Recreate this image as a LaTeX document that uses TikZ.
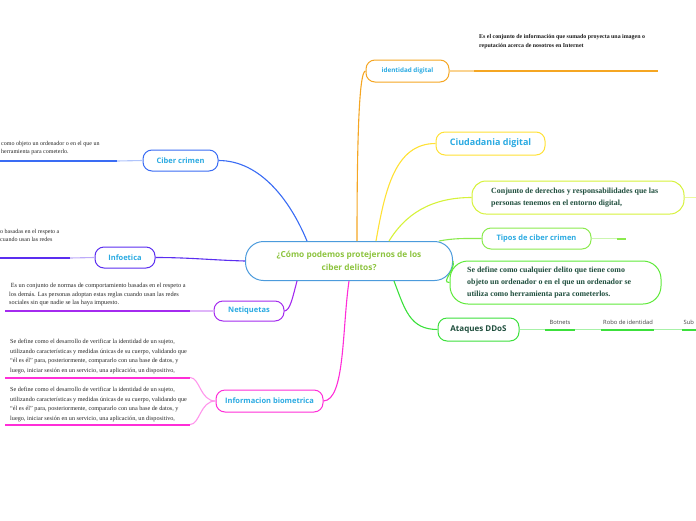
\documentclass[tikz,border=0pt]{standalone}
\usepackage{fontspec}
\setmainfont{Liberation Serif}
\setsansfont{Open Sans}
\usetikzlibrary{calc}
\definecolor{cOrange}{HTML}{F5A623}
\definecolor{cYellow}{HTML}{FFE135}
\definecolor{cYGreen}{HTML}{D6F23A}
\definecolor{cTGreen}{HTML}{8BEA4E}
\definecolor{cSGreen}{HTML}{5FEA3A}
\definecolor{cAGreen}{HTML}{3CE03C}
\definecolor{cBlue}{HTML}{3A6CF4}
\definecolor{cIPurple}{HTML}{5B2EF0}
\definecolor{cNPurple}{HTML}{A42BEF}
\definecolor{cMagenta}{HTML}{FF2ED8}
\definecolor{cCenter}{HTML}{4C9BDC}
\definecolor{cLabel}{HTML}{2AAAE2}
\definecolor{cCText}{HTML}{8DC43F}
\definecolor{cDark}{HTML}{1F4E3D}
\tikzset{
  box/.style={draw, rounded corners=9pt, line width=1pt, fill=white, inner sep=0pt,
    font=\sffamily\fontsize{7.5}{9}\selectfont\bfseries, text=cLabel},
  conn/.style={line width=1.1pt},
  thick line/.style={line width=2pt},
  desc/.style={anchor=north west, align=left, inner sep=0pt, text=black!85,
    font=\rmfamily\fontsize{6.2}{9.7}\selectfont},
  bigdesc/.style={anchor=north west, align=left, inner sep=0pt, text=black!85,
    font=\rmfamily\fontsize{6}{8.5}\selectfont},
  bdesc/.style={anchor=north west, align=left, inner sep=0pt, text=black!90,
    font=\rmfamily\bfseries\fontsize{5.9}{9}\selectfont},
  dgdesc/.style={anchor=west, align=left, inner sep=0pt, text=cDark,
    font=\rmfamily\bfseries\fontsize{7.9}{12}\selectfont},
  small/.style={inner sep=0pt, text=black!75, font=\sffamily\fontsize{5.8}{7}\selectfont}
}
\begin{document}
\begin{tikzpicture}[x=1pt,y=1pt]
\useasboundingbox (0,0) rectangle (696,-520);

% center
\node[box, draw=cCenter, rounded corners=18pt, minimum width=207pt, minimum height=39pt,
  align=center, text=cCText, font=\sffamily\fontsize{8.3}{13.5}\selectfont\bfseries]
  (c) at (349,-261) {¿Cómo podemos protejernos de los\\ciber delitos?};

% right side nodes
\node[box, draw=cOrange, minimum width=83pt, minimum height=22pt, font=\sffamily\fontsize{6.3}{8}\selectfont\bfseries]
  (id) at (407.5,-71) {identidad digital};
\node[box, draw=cYellow, minimum width=109pt, minimum height=23pt, font=\sffamily\fontsize{9}{11}\selectfont\bfseries]
  (cd) at (490.5,-143.5) {Ciudadania digital};
\node[box, draw=cYGreen, rounded corners=14pt, minimum width=212pt, minimum height=33pt, text=cDark]
  (cj) at (578,-197.5) {};
\node[dgdesc] (cjt) at (491,-197.5) {Conjunto de derechos y responsabilidades que las\\personas tenemos en el entorno digital,};
\node[box, draw=cTGreen, minimum width=109pt, minimum height=21pt]
  (tp) at (536.5,-238.5) {Tipos de ciber crimen};
\node[box, draw=cSGreen, rounded corners=18pt, minimum width=211pt, minimum height=43pt]
  (sd) at (555.5,-282.5) {};
\node[dgdesc] (sdt) at (467,-282.5) {Se define como cualquier delito que tiene como\\objeto un ordenador o en el que un ordenador se\\utiliza como herramienta para cometerlos.};
\node[box, draw=cAGreen, minimum width=81pt, minimum height=23pt, text=cDark, font=\sffamily\fontsize{8}{10}\selectfont\bfseries]
  (at) at (478.5,-329.5) {Ataques DDoS};

% left side nodes
\node[box, draw=cBlue, minimum width=75pt, minimum height=21pt]
  (cc) at (180.5,-160.5) {Ciber crimen};
\node[box, draw=cIPurple, minimum width=60pt, minimum height=21pt]
  (ie) at (125,-257.5) {Infoetica};
\node[box, draw=cNPurple, minimum width=70pt, minimum height=20pt]
  (nq) at (249,-311) {Netiquetas};
\node[box, draw=cMagenta, minimum width=107pt, minimum height=22pt]
  (bm) at (269.5,-401) {Informacion biometrica};

% connectors from center
\draw[conn, cOrange] ([xshift=8pt]c.north) .. controls (357,-120) and (360,-71) .. (id.west);
\draw[conn, cYellow] ([xshift=27pt]c.north) .. controls (385,-190) and (395,-143.5) .. (cd.west);
\draw[conn, cYGreen] ([xshift=40pt]c.north) .. controls (405,-215) and (430,-197.5) .. (cj.west);
\draw[conn, cTGreen] ([xshift=90pt]c.north) .. controls (455,-238) and (465,-238.5) .. (tp.west);
\draw[conn, cSGreen] (c.east) .. controls (456,-270) and (440,-282.5) .. (sd.west);
\draw[conn, cAGreen] ([xshift=45pt]c.south) .. controls (405,-310) and (410,-329.5) .. (at.west);
\draw[conn, cBlue] ([xshift=-42pt]c.north) .. controls (290,-200) and (260,-160.5) .. (cc.east);
\draw[conn, cIPurple] (c.west) .. controls (210,-260) and (190,-257.5) .. (ie.east);
\draw[conn, cNPurple] ([xshift=-52pt]c.south) .. controls (292,-300) and (290,-310) .. (nq.east);
\draw[conn, cMagenta] ([xshift=0pt]c.south) .. controls (342,-330) and (345,-400) .. (bm.east);

% right side extensions
\coordinate (idA) at (474,-71);
\coordinate (idB) at (658,-71);
\draw[conn, cOrange!50] (id.east) -- (idA);
\draw[thick line, cOrange] (idA) -- (idB);
\node[bdesc] (idt) at (479,-34) {Es el conjunto de información que sumado proyecta una imagen o\\reputación acerca de nosotros en Internet};

\coordinate (cjE) at (696,-197.5);
\draw[conn, cYGreen!50] (cj.east) -- (cjE);

\coordinate (tpA) at (617,-238.5);
\coordinate (tpB) at (626,-238.5);
\draw[conn, cTGreen!45] (tp.east) -- (tpA);
\draw[thick line, cTGreen] (tpA) -- (tpB);

\coordinate (atE) at (696,-329.5);
\draw[conn, cAGreen!45] (at.east) -- (atE);
\coordinate (b1) at (545,-329.5); \coordinate (b2) at (575,-329.5);
\coordinate (r1) at (601,-329.5); \coordinate (r2) at (654,-329.5);
\coordinate (s1) at (682,-329.5); \coordinate (s2) at (696,-329.5);
\draw[thick line, cAGreen] (b1) -- (b2);
\draw[thick line, cAGreen] (r1) -- (r2);
\draw[thick line, cAGreen] (s1) -- (s2);
\node[small] (bt) at (560,-322) {Botnets};
\node[small] (ri) at (628,-322) {Robo de identidad};
\node[small, anchor=west] (sb) at (683.5,-322) {Sub};

% left side extensions
\coordinate (ccA) at (117,-161);
\coordinate (ccB) at (0,-161);
\draw[conn, cBlue!40] (cc.west) -- (ccA);
\draw[line width=2.5pt, cBlue] (ccA) -- (ccB);
\node[bigdesc] (cct) at (1,-141) {como objeto un ordenador o en el que un\\herramienta para cometerlo.};

\coordinate (ieA) at (70,-258);
\coordinate (ieB) at (0,-258);
\draw[conn, cIPurple!40] (ie.west) -- (ieA);
\draw[thick line, cIPurple] (ieA) -- (ieB);
\node[bigdesc] (iet) at (0,-229) {o basadas en el respeto a\\cuando usan las redes};

\coordinate (nqA) at (190,-311);
\coordinate (nqB) at (5,-311);
\draw[conn, cNPurple!35] (nq.west) -- (nqA);
\draw[thick line, cNPurple] (nqA) -- (nqB);
\node[bigdesc, font=\rmfamily\fontsize{6.3}{8.5}\selectfont] (nqt) at (9,-283) {\ Es un conjunto de normas de comportamiento basadas en el respeto a\\los demás. Las personas adoptan estas reglas cuando usan las redes\\sociales sin que nadie se las haya impuesto.};

\coordinate (bmT) at (190,-377.5);
\coordinate (bmTE) at (5,-377.5);
\coordinate (bmB) at (190,-424.5);
\coordinate (bmBE) at (5,-424.5);
\draw[conn, cMagenta!50] (bm.west) .. controls (200,-401) and (200,-377.5) .. (bmT);
\draw[conn, cMagenta!50] (bm.west) .. controls (200,-401) and (200,-424.5) .. (bmB);
\draw[thick line, cMagenta] (bmT) -- (bmTE);
\draw[thick line, cMagenta] (bmB) -- (bmBE);
\node[desc] (bmt1) at (10,-339) {Se define como el desarrollo de verificar la identidad de un sujeto,\\utilizando características y medidas únicas de su cuerpo, validando que\\“él es él” para, posteriormente, compararlo con una base de datos, y\\luego, iniciar sesión en un servicio, una aplicación, un dispositivo,};
\node[desc] (bmt2) at (10,-387) {Se define como el desarrollo de verificar la identidad de un sujeto,\\utilizando características y medidas únicas de su cuerpo, validando que\\“él es él” para, posteriormente, compararlo con una base de datos, y\\luego, iniciar sesión en un servicio, una aplicación, un dispositivo,};

\end{tikzpicture}
\end{document}
